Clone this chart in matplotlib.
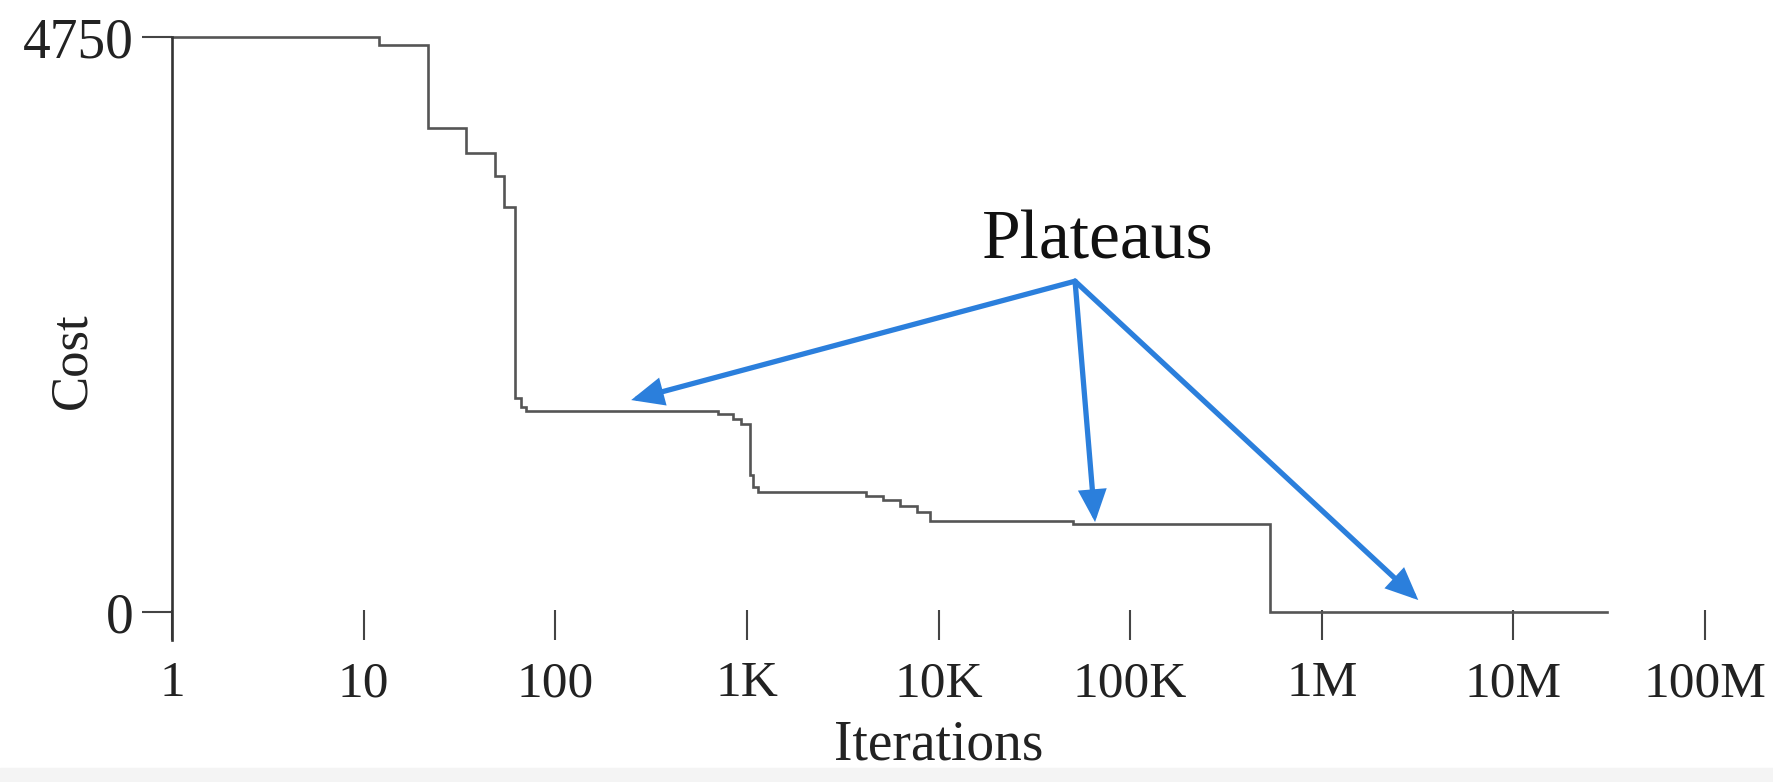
import numpy as np
import matplotlib.pyplot as plt
from matplotlib.patches import Rectangle

# datos (iteraciones en escala log, coste)
iters = [1, 12.0, 21.6, 34.3, 48.2, 53.7, 61.5, 65.9, 70.4, 711, 847, 933, 1040,
         1070, 1145, 4165, 5110, 6270, 7690, 9040, 50100, 534000, 3.07e7]
cost = [4750, 4680, 3998, 3793, 3605, 3344, 1767, 1690, 1662, 1635, 1597, 1550, 1130,
        1036, 989, 961, 924, 877, 830, 756, 728, 0, 0]

xticks = [1, 10, 100, 1e3, 1e4, 1e5, 1e6, 1e7, 1e8]
xticklabels = ['1', '10', '100', '1K', '10K', '100K', '1M', '10M', '100M']
yticks = [0, 4750]

# flechas "Plateaus": origen y puntas
label_pos = (68000, 2923)
arrow_from = (51600, 2733)
arrow_to_x = [249, 65600, 3.19e6]
arrow_to_y = [1751, 743, 99]

plt.rcParams['font.family'] = ['Liberation Serif', 'DejaVu Serif']

fig = plt.figure(figsize=(17.74, 7.82), dpi=100)
ax = fig.add_axes([172/1774, 1 - 640/782, (1705-172)/1774, (640-37)/782])

ax.plot(iters, cost, drawstyle='steps-post', color='#555555', lw=1.9,
        clip_on=False, solid_joinstyle='miter')

ax.set_xscale('log')
ax.set_xlim(1, 1e8)
ax.set_ylim(-231, 4750)

ax.set_xticks(xticks)
ax.set_xticklabels(xticklabels)
ax.xaxis.set_minor_locator(plt.NullLocator())
ax.set_yticks(yticks)
ax.set_yticklabels([str(v) for v in yticks])

for s in ['top', 'right', 'bottom']:
    ax.spines[s].set_visible(False)
ax.spines['left'].set_linewidth(1.9)
ax.spines['left'].set_color('#333333')

ax.tick_params(axis='x', direction='in', length=21.5, width=1.5, color='#444444',
               labelsize=37, pad=15, labelcolor='#222222')
ax.tick_params(axis='y', direction='out', length=21.5, width=1.5, color='#444444',
               labelsize=40, pad=6, labelcolor='#222222')

ax.set_xlabel('Iterations', fontsize=40, color='#222222', labelpad=9)
ax.set_ylabel('Cost', fontsize=38, color='#222222')
ax.yaxis.set_label_coords(-0.0496, 0.464)

ax.text(label_pos[0], label_pos[1], 'Plateaus', fontsize=50, ha='center',
        va='baseline', color='#111111')

for tx, ty in zip(arrow_to_x, arrow_to_y):
    ax.annotate('', xy=(tx, ty), xytext=arrow_from,
                arrowprops=dict(arrowstyle='-|>,head_length=0.5,head_width=0.22',
                                color='#2b7fdc', lw=3.8,
                                mutation_scale=34, shrinkA=0, shrinkB=0,
                                joinstyle='miter'),
                annotation_clip=False)

# franja gris clara abajo
fig.patches.append(Rectangle((0, 0), 1, 14/782, transform=fig.transFigure,
                             color='#f4f4f4', zorder=-1))

plt.savefig('out.png', dpi=100)
